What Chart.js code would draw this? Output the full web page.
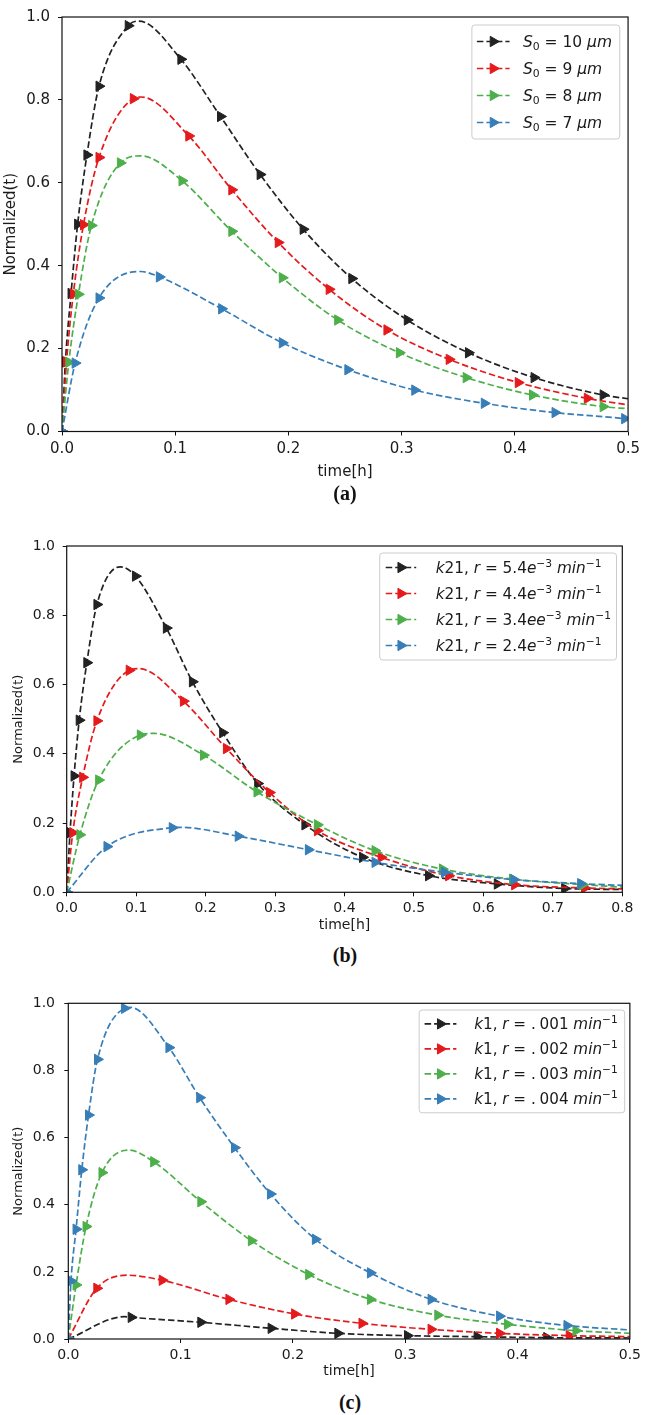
<!DOCTYPE html>
<html>
<head>
<meta charset="utf-8">
<script src="https://cdn.jsdelivr.net/npm/chart.js@4.4.0/dist/chart.umd.min.js"></script>
<style>
  body { margin: 0; background: #fff; width: 645px; height: 1415px; position: relative; overflow: hidden; }
  .panel { position: absolute; left: 0; width: 645px; }
  .cap { position: absolute; font-family: "Liberation Serif", "Times New Roman", serif; font-weight: bold;
         font-size: 20px; color: #111; transform: translate(-50%, -50%); }
</style>
</head>
<body>
<div class="panel" style="top:0px;height:482px"><canvas id="chartA" width="645" height="482"></canvas></div>
<div class="cap" style="left:345px;top:493px">(a)</div>
<div class="panel" style="top:505px;height:430px"><canvas id="chartB" width="645" height="430"></canvas></div>
<div class="cap" style="left:345px;top:955px">(b)</div>
<div class="panel" style="top:965px;height:420px"><canvas id="chartC" width="645" height="420"></canvas></div>
<div class="cap" style="left:350px;top:1402px">(c)</div>

<script>
// ---- data (time in h, normalized value) ----
// markers are the triangles, "peak/end" points are the unmarked curve points
const colors = ['#222222', '#e41a1c', '#4daf4a', '#377eb8'];

// (a) S0 = 10, 9, 8, 7 um
const a10T = [0, 0.003, 0.008, 0.0138, 0.022, 0.0327, 0.0585, 0.105, 0.140, 0.175, 0.213, 0.256, 0.305, 0.359, 0.417, 0.478];
const a10V = [0, 0.168, 0.333, 0.500, 0.667, 0.833, 0.979, 0.898, 0.760, 0.620, 0.488, 0.369, 0.269, 0.190, 0.130, 0.088];
const a10PeakT = [0.068, 0.5], a10PeakV = [0.990, 0.079];
const a9T = [0, 0.004, 0.0100, 0.019, 0.0327, 0.063, 0.112, 0.150, 0.191, 0.236, 0.287, 0.342, 0.403, 0.464];
const a9V = [0, 0.168, 0.332, 0.499, 0.661, 0.803, 0.713, 0.583, 0.456, 0.343, 0.245, 0.174, 0.118, 0.080];
const a9PeakT = [0.070, 0.5], a9PeakV = [0.807, 0.064];
const a8T = [0, 0.006, 0.0145, 0.026, 0.0516, 0.106, 0.150, 0.1946, 0.2435, 0.298, 0.357, 0.4156, 0.478];
const a8V = [0, 0.167, 0.331, 0.497, 0.648, 0.605, 0.483, 0.371, 0.269, 0.190, 0.130, 0.088, 0.060];
const a8PeakT = [0.0696, 0.5], a8PeakV = [0.665, 0.055];
const a7T = [0, 0.0116, 0.0327, 0.086, 0.141, 0.1946, 0.2525, 0.3116, 0.373, 0.4355, 0.497];
const a7V = [0, 0.165, 0.322, 0.373, 0.296, 0.214, 0.149, 0.0998, 0.068, 0.0456, 0.031];
const a7PeakT = [0.0696, 0.5], a7PeakV = [0.386, 0.030];

// (b) k21, r = 5.4e-3, 4.4e-3, 3.4e-3, 2.4e-3
const b54T = [0, 0.0048, 0.0106, 0.018, 0.029, 0.0435, 0.099, 0.1435, 0.181, 0.2246, 0.275, 0.343, 0.426, 0.521, 0.620, 0.717];
const b54V = [0, 0.172, 0.336, 0.497, 0.663, 0.831, 0.913, 0.763, 0.608, 0.461, 0.314, 0.195, 0.101, 0.048, 0.024, 0.011];
const b54PeakT = [0.077, 0.8], b54PeakV = [0.940, 0.008];
const b44T = [0, 0.0087, 0.023, 0.0435, 0.090, 0.168, 0.230, 0.292, 0.361, 0.4527, 0.550, 0.645, 0.7456];
const b44V = [0, 0.172, 0.332, 0.495, 0.641, 0.552, 0.415, 0.288, 0.178, 0.101, 0.048, 0.022, 0.0125];
const b44PeakT = [0.104, 0.8], b44PeakV = [0.646, 0.010];
const b34T = [0, 0.019, 0.046, 0.106, 0.197, 0.274, 0.361, 0.444, 0.541, 0.642, 0.743];
const b34V = [0, 0.166, 0.324, 0.454, 0.396, 0.290, 0.195, 0.120, 0.067, 0.038, 0.022];
const b34PeakT = [0.1256, 0.8], b34PeakV = [0.459, 0.015];
const b24T = [0, 0.058, 0.152, 0.247, 0.348, 0.444, 0.544, 0.644, 0.740];
const b24V = [0, 0.132, 0.1865, 0.162, 0.123, 0.0865, 0.058, 0.0365, 0.025];
const b24PeakT = [0.164, 0.8], b24PeakV = [0.1875, 0.020];

// (c) k1, r = .001, .002, .003, .004
const c1T = [0, 0.056, 0.118, 0.1806, 0.240, 0.302, 0.364, 0.426];
const c1V = [0, 0.0645, 0.0497, 0.0318, 0.0168, 0.0099, 0.0069, 0.004];
const c1PeakT = [0.050, 0.5], c1PeakV = [0.0665, 0.003];
const c2T = [0, 0.0254, 0.0836, 0.143, 0.2015, 0.2615, 0.323, 0.384, 0.446];
const c2V = [0, 0.151, 0.175, 0.118, 0.0745, 0.0466, 0.0287, 0.0168, 0.0099];
const c2PeakT = [0.052, 0.5], c2PeakV = [0.190, 0.007];
const c3T = [0, 0.0069, 0.0158, 0.030, 0.076, 0.118, 0.163, 0.214, 0.269, 0.329, 0.391, 0.452];
const c3V = [0, 0.161, 0.335, 0.4955, 0.528, 0.409, 0.293, 0.192, 0.118, 0.071, 0.0436, 0.0248];
const c3PeakT = [0.0537, 0.5], c3PeakV = [0.563, 0.017];
const c4T = [0, 0.0024, 0.0069, 0.012, 0.018, 0.026, 0.050, 0.0896, 0.117, 0.148, 0.180, 0.220, 0.269, 0.323, 0.384, 0.444];
const c4V = [0, 0.173, 0.327, 0.504, 0.667, 0.833, 0.985, 0.868, 0.719, 0.570, 0.432, 0.297, 0.197, 0.118, 0.068, 0.040];
const c4PeakT = [0.055, 0.5], c4PeakV = [0.988, 0.027];

// legend labels (mathtext pieces: it = italic, sub / sup = script)
const labelsA = [
  [{t: 'S', it: 1}, {t: '0', sub: 1}, {t: ' = 10 '}, {t: 'μm', it: 1}],
  [{t: 'S', it: 1}, {t: '0', sub: 1}, {t: ' = 9 '}, {t: 'μm', it: 1}],
  [{t: 'S', it: 1}, {t: '0', sub: 1}, {t: ' = 8 '}, {t: 'μm', it: 1}],
  [{t: 'S', it: 1}, {t: '0', sub: 1}, {t: ' = 7 '}, {t: 'μm', it: 1}]
];
const labelsB = ['5.4', '4.4', '3.4', '2.4'].map((v, i) => [
  {t: 'k', it: 1}, {t: '21, '}, {t: 'r', it: 1}, {t: ' = ' + v}, {t: i == 2 ? 'ee' : 'e', it: 1},
  {t: '−3', sup: 1}, {t: ' '}, {t: 'min', it: 1}, {t: '−1', sup: 1}
]);
const labelsC = ['001', '002', '003', '004'].map(v => [
  {t: 'k', it: 1}, {t: '1, '}, {t: 'r', it: 1}, {t: ' = .'}, {t: v + ' ', gap: 0.25},
  {t: 'min', it: 1}, {t: '−1', sup: 1}
]);

function series(markT, markV, peakT, peakV) {
  const pts = markT.map((t, i) => ({x: t, y: markV[i], m: true}))
    .concat(peakT.map((t, i) => ({x: t, y: peakV[i], m: false})));
  return pts.sort((a, b) => a.x - b.x);
}

function richText(ctx, segs, x, y, fs, draw) {
  let cx = x;
  segs.forEach(s => {
    if (s.gap) cx += s.gap * fs;
    const small = s.sub || s.sup;
    const size = small ? fs * 0.7 : fs;
    ctx.font = (s.it ? 'italic ' : '') + size + 'px "DejaVu Sans"';
    const dy = s.sub ? fs * 0.22 : s.sup ? -fs * 0.4 : 0;
    if (draw) ctx.fillText(s.t, cx, y + dy);
    cx += ctx.measureText(s.t).width;
  });
  return cx - x;
}

function triangle(ctx, x, y, r, color) {
  ctx.beginPath();
  ctx.moveTo(x + r, y);
  ctx.lineTo(x - r / 2, y - r * 0.866);
  ctx.lineTo(x - r / 2, y + r * 0.866);
  ctx.closePath();
  ctx.fillStyle = color;
  ctx.strokeStyle = color;
  ctx.lineWidth = 1;
  ctx.fill();
  ctx.stroke();
}

const lineW = 1.7, dash = [6.5, 3], markR = 6;

function frameAndLegend(labels, lg) {
  return {
    id: 'frameLegend',
    afterDraw(chart) {
      const ctx = chart.ctx, a = chart.chartArea;
      ctx.save();
      // axes box (matplotlib spines)
      ctx.strokeStyle = '#111';
      ctx.lineWidth = 1.2;
      ctx.setLineDash([]);
      ctx.strokeRect(a.left, a.top, a.right - a.left, a.bottom - a.top);

      // legend
      const textW = Math.max(...labels.map(s => richText(ctx, s, 0, 0, lg.font, false)));
      const w = lg.padL + lg.handle + lg.gap + textW + lg.padR;
      const h = lg.padT * 2 + labels.length * lg.row;
      const x0 = a.right - lg.offR - w, y0 = a.top + lg.offT;
      ctx.beginPath();
      ctx.roundRect(x0, y0, w, h, 3);
      ctx.fillStyle = 'rgba(255,255,255,0.85)';
      ctx.fill();
      ctx.strokeStyle = '#cccccc';
      ctx.lineWidth = 1;
      ctx.stroke();
      labels.forEach((segs, i) => {
        const cy = y0 + lg.padT + lg.row * (i + 0.5);
        const hx = x0 + lg.padL;
        ctx.strokeStyle = colors[i];
        ctx.lineWidth = lineW;
        ctx.setLineDash(dash);
        ctx.beginPath();
        ctx.moveTo(hx, cy);
        ctx.lineTo(hx + lg.handle, cy);
        ctx.stroke();
        ctx.setLineDash([]);
        triangle(ctx, hx + lg.handle / 2, cy, markR, colors[i]);
        ctx.fillStyle = '#1a1a1a';
        ctx.textBaseline = 'alphabetic';
        richText(ctx, segs, hx + lg.handle + lg.gap, cy + lg.font * 0.36, lg.font, true);
      });
      ctx.restore();
    }
  };
}

function makeChart(id, data, labels, p) {
  const tickFont = {family: 'DejaVu Sans', size: p.font, lineHeight: 1.2};
  const datasets = data.map((pts, i) => ({
    data: pts,
    borderColor: colors[i],
    backgroundColor: colors[i],
    borderWidth: lineW,
    borderDash: dash,
    cubicInterpolationMode: 'monotone',
    pointStyle: 'triangle',
    pointRotation: 90,
    pointRadius: c => (c.raw && c.raw.m ? markR : 0),
    pointHoverRadius: 0,
    pointBackgroundColor: colors[i],
    pointBorderColor: colors[i],
    pointBorderWidth: 1,
    clip: 0,
    order: data.length - 1 - i
  }));
  return new Chart(document.getElementById(id), {
    type: 'line',
    data: {datasets: datasets},
    options: {
      responsive: false,
      animation: false,
      events: [],
      layout: {padding: {top: p.top, right: p.right, left: 0, bottom: 0}},
      plugins: {legend: {display: false}, tooltip: {enabled: false}},
      scales: {
        x: {
          type: 'linear', min: 0, max: p.xMax,
          ticks: {stepSize: 0.1, callback: v => v.toFixed(1), font: tickFont, color: '#1a1a1a',
                  padding: p.xPad, maxRotation: 0, autoSkip: false},
          grid: {display: true, drawOnChartArea: false, drawTicks: true, tickLength: 4, color: '#111'},
          border: {display: false},
          title: {display: true, text: 'time[h]', font: {family: 'DejaVu Sans', size: p.xTitleFont, lineHeight: 1.2},
                  color: '#1a1a1a', padding: {top: 0, bottom: p.xTitlePad}},
          afterFit: s => { s.height = p.xh; }
        },
        y: {
          min: 0, max: 1,
          ticks: {stepSize: 0.2, callback: v => v.toFixed(1), font: tickFont, color: '#1a1a1a', padding: p.yPad},
          grid: {display: true, drawOnChartArea: false, drawTicks: true, tickLength: 4, color: '#111'},
          border: {display: false},
          title: {display: true, text: 'Normalized(t)', font: {family: 'DejaVu Sans', size: p.yTitleFont, lineHeight: 1.2},
                  color: '#1a1a1a', padding: {top: p.yTitlePad, bottom: 0}},
          afterFit: s => { s.width = p.yw; }
        }
      }
    },
    plugins: [frameAndLegend(labels, p.legend)]
  });
}

makeChart('chartA', [
  series(a10T, a10V, a10PeakT, a10PeakV),
  series(a9T, a9V, a9PeakT, a9PeakV),
  series(a8T, a8V, a8PeakT, a8PeakV),
  series(a7T, a7V, a7PeakT, a7PeakV)
], labelsA, {
  top: 8, right: 16, yw: 62, xh: 50.5, xMax: 0.5, font: 15, xPad: 5, yPad: 8,
  xTitleFont: 15, xTitlePad: 1.3, yTitleFont: 15, yTitlePad: 2,
  legend: {font: 15.5, offR: 8.3, offT: 8, padL: 5, handle: 32.7, gap: 13.3, padR: 7.7, row: 27, padT: 3}
});

makeChart('chartB', [
  series(b54T, b54V, b54PeakT, b54PeakV),
  series(b44T, b44V, b44PeakT, b44PeakV),
  series(b34T, b34V, b34PeakT, b34PeakV),
  series(b24T, b24V, b24PeakT, b24PeakV)
], labelsB, {
  top: 41, right: 22.7, yw: 66.7, xh: 42.7, xMax: 0.8, font: 14, xPad: 3.7, yPad: 7.7,
  xTitleFont: 14, xTitlePad: 1.6, yTitleFont: 13, yTitlePad: 11,
  legend: {font: 15.3, offR: 5.8, offT: 7, padL: 6, handle: 30.5, gap: 19.5, padR: 5.5, row: 26, padT: 1.5}
});

makeChart('chartC', [
  series(c1T, c1V, c1PeakT, c1PeakV),
  series(c2T, c2V, c2PeakT, c2PeakV),
  series(c3T, c3V, c3PeakT, c3PeakV),
  series(c4T, c4V, c4PeakT, c4PeakV)
], labelsC, {
  top: 38.3, right: 15, yw: 68.3, xh: 46, xMax: 0.5, font: 14, xPad: 4, yPad: 9.3,
  xTitleFont: 14, xTitlePad: 4.9, yTitleFont: 13, yTitlePad: 11,
  legend: {font: 15.2, offR: 5.2, offT: 6.7, padL: 5.4, handle: 31.8, gap: 17.8, padR: 7, row: 25, padT: 1.4}
});
</script>
</body>
</html>
